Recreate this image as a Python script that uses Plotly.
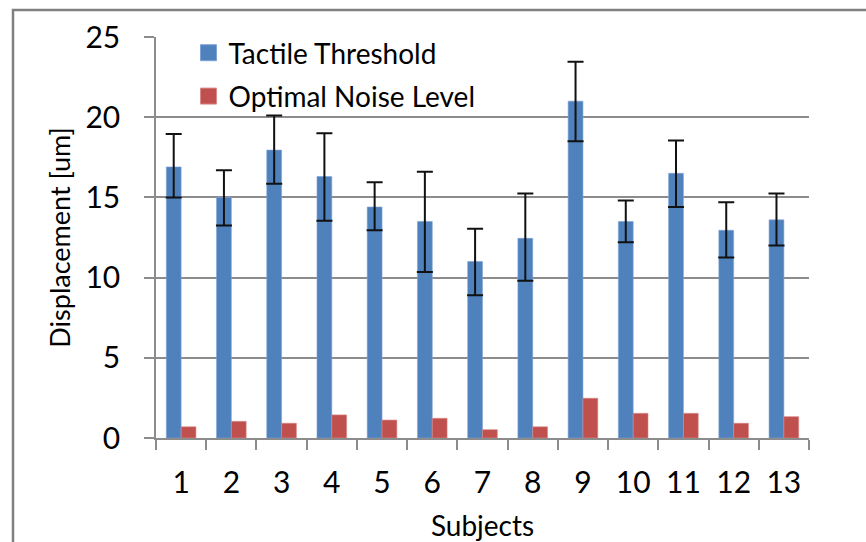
import plotly.graph_objects as go

subjects = [str(i) for i in range(1, 14)]
tactile = [16.9, 15.0, 17.95, 16.3, 14.4, 13.5, 11.0, 12.45, 21.0, 13.5, 16.5, 12.95, 13.6]
tactile_err_plus = [2.05, 1.7, 2.15, 2.7, 1.55, 3.1, 2.05, 2.8, 2.45, 1.3, 2.05, 1.75, 1.65]
tactile_err_minus = [1.9, 1.75, 2.1, 2.75, 1.45, 3.15, 2.1, 2.65, 2.5, 1.3, 2.1, 1.7, 1.6]
noise = [0.7, 1.04, 0.92, 1.44, 1.12, 1.23, 0.52, 0.7, 2.48, 1.54, 1.54, 0.92, 1.33]
y_ticks = [0, 5, 10, 15, 20, 25]

BLUE = "#4F81BD"
RED = "#C0504D"
GRID = "#8C8C8C"
FONT = "Lato"

fig = go.Figure()
fig.add_trace(go.Bar(
    x=subjects, y=tactile, name="Tactile Threshold", showlegend=False,
    marker=dict(color=BLUE, line=dict(color="#7FA3D6", width=0.6)),
    error_y=dict(type="data", symmetric=False, array=tactile_err_plus,
                 arrayminus=tactile_err_minus, color="#111111", thickness=2, width=8),
))
fig.add_trace(go.Bar(
    x=subjects, y=noise, name="Optimal Noise Level", showlegend=False,
    marker=dict(color=RED, line=dict(color="#D98A88", width=0.6)),
))
# legend entries
fig.add_trace(go.Scatter(x=[None], y=[None], mode="markers", name="Tactile Threshold",
                         marker=dict(symbol="square", size=16, color=BLUE,
                                     line=dict(color="#7FA3D6", width=1)),
                         legendgroup="a"))
fig.add_trace(go.Scatter(x=[None], y=[None], mode="markers", name="Optimal Noise Level",
                         marker=dict(symbol="square", size=16, color=RED,
                                     line=dict(color="#D98A88", width=1)),
                         legendgroup="b"))

fig.update_layout(
    width=866, height=542,
    margin=dict(l=156, r=57, t=37, b=104, pad=0),
    paper_bgcolor="white", plot_bgcolor="white",
    font=dict(family=FONT, color="#000000"),
    barmode="group", bargap=0.41, bargroupgap=0,
    legend=dict(x=(188.5 - 156) / 653, y=1 + (37 - 28) / 401, xanchor="left", yanchor="top",
                bgcolor="rgba(0,0,0,0)", font=dict(size=28, family=FONT),
                tracegroupgap=4, itemsizing="trace"),
    showlegend=True,
    xaxis=dict(
        type="category", showline=True, linecolor=GRID, linewidth=1.5,
        ticks="outside", tickson="boundaries", ticklen=10, tickcolor=GRID, tickwidth=1.5,
        tickfont=dict(size=30, family=FONT), ticklabelstandoff=17,
        title=dict(text="Subjects", font=dict(size=28, family=FONT), standoff=19),
        showgrid=False, automargin=False,
    ),
    yaxis=dict(
        range=[0, 25], tickvals=y_ticks, showline=True, linecolor=GRID, linewidth=1.5,
        ticks="outside", ticklen=10, tickcolor=GRID, tickwidth=1.5,
        showgrid=True, gridcolor=GRID, gridwidth=1.5, zeroline=False,
        tickfont=dict(size=30, family=FONT), ticklabelstandoff=18,
        title=dict(text="Displacement [um]", font=dict(size=27, family=FONT), standoff=7),
        automargin=False,
    ),
    shapes=[dict(type="rect", xref="paper", yref="paper",
                 x0=(13 - 156) / 653, x1=(900 - 156) / 653,
                 y0=-(560 - 438) / 401, y1=1 + (37 - 10) / 401,
                 line=dict(color="#808080", width=2.5), fillcolor="rgba(0,0,0,0)", layer="below")],
)

fig.write_html("out.html", config={"displayModeBar": False},
               post_script="document.body.style.margin='0';document.body.style.overflow='hidden';")
